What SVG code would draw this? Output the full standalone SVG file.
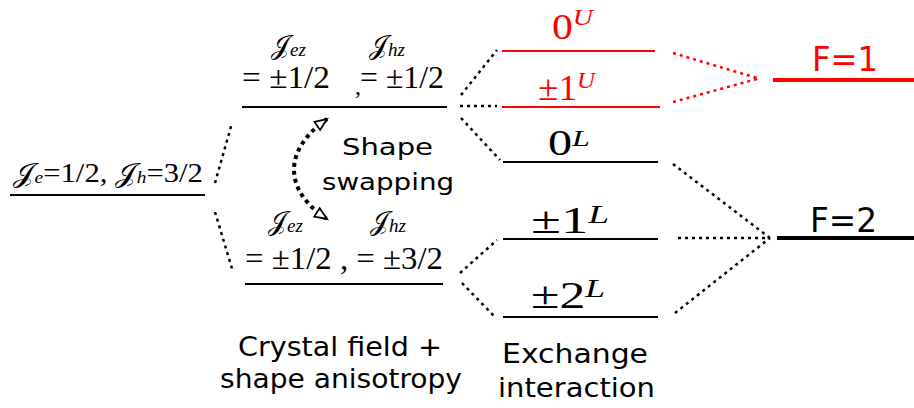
<svg xmlns="http://www.w3.org/2000/svg" width="914" height="408" viewBox="0 0 914 408">
<style>
.lvl{stroke:#000;stroke-width:2}
.red{stroke:#f00}
.thick{stroke-width:4}
.dot{stroke:#000;stroke-width:2.5;stroke-dasharray:3 4;fill:none}
.dotr{stroke:#f00}
.m{font-family:"Liberation Serif","DejaVu Serif",serif;fill:#000}
.s{font-family:"DejaVu Sans",sans-serif;fill:#000}
.rt{fill:#f00}
</style>
<defs>
<marker id="tri" markerUnits="userSpaceOnUse" markerWidth="16" markerHeight="14" refX="13" refY="6" orient="auto-start-reverse" viewBox="0 0 16 12">
<path d="M1,1 L13,6 L1,11 Z" fill="#fff" stroke="#000" stroke-width="1.8" stroke-dasharray="none"/>
</marker>
</defs>

<g id="connectors">
<line class="dot" x1="215" y1="183" x2="232" y2="123"/>
<line class="dot" x1="215" y1="212" x2="233" y2="272"/>
<line class="dot" x1="461" y1="95" x2="497" y2="50"/>
<line class="dot" x1="460" y1="106" x2="497" y2="106"/>
<line class="dot" x1="461" y1="118" x2="500" y2="160"/>
<line class="dot" x1="460" y1="273" x2="497" y2="240"/>
<line class="dot" x1="462" y1="283" x2="495" y2="317"/>
<line class="dot dotr" x1="673" y1="53" x2="757" y2="78"/>
<line class="dot dotr" x1="673" y1="102" x2="757" y2="79"/>
<line class="dot" x1="673" y1="164" x2="770" y2="238"/>
<line class="dot" x1="678" y1="238" x2="770" y2="238"/>
<line class="dot" x1="675" y1="313" x2="770" y2="238"/>
<path class="dot" style="stroke-width:4;stroke-dasharray:4 4" d="M327,119 C283,150 283,190 327,219" marker-start="url(#tri)" marker-end="url(#tri)"/>
</g>

<g id="level-j">
<line class="lvl" x1="10" y1="195" x2="205" y2="195"/>
<text class="m" x="13" y="182" font-size="27" textLength="190" lengthAdjust="spacingAndGlyphs">𝒥<tspan font-size="17" dy="1" font-style="italic">e</tspan><tspan dy="-1">=1/2, 𝒥</tspan><tspan font-size="17" dy="1" font-style="italic">h</tspan><tspan dy="-1">=3/2</tspan></text>
</g>

<g id="level-upper">
<line class="lvl" x1="242" y1="107" x2="447" y2="107"/>
<text class="m" x="271" y="54" font-size="27">𝒥<tspan font-size="19" dy="2" font-style="italic">ez</tspan></text>
<text class="m" x="369" y="54" font-size="27">𝒥<tspan font-size="19" dy="2" font-style="italic">hz</tspan></text>
<text class="m" x="242" y="88" font-size="31" textLength="88" lengthAdjust="spacingAndGlyphs">= ±1/2</text>
<text class="m" x="355" y="94" font-size="24">,</text>
<text class="m" x="360" y="88" font-size="31" textLength="84" lengthAdjust="spacingAndGlyphs">= ±1/2</text>
</g>

<g id="level-lower">
<line class="lvl" x1="245" y1="284" x2="443" y2="284"/>
<text class="m" x="268" y="230" font-size="27">𝒥<tspan font-size="19" dy="2" font-style="italic">ez</tspan></text>
<text class="m" x="370" y="230" font-size="27">𝒥<tspan font-size="19" dy="2" font-style="italic">hz</tspan></text>
<text class="m" x="245" y="269" font-size="31" textLength="198" lengthAdjust="spacingAndGlyphs">= ±1/2 , = ±3/2</text>
</g>

<g id="shape-swapping">
<text class="s" x="342" y="155" font-size="23" textLength="91" lengthAdjust="spacingAndGlyphs">Shape</text>
<text class="s" x="322" y="190" font-size="23" textLength="132" lengthAdjust="spacingAndGlyphs">swapping</text>
</g>

<g id="level-0U">
<line class="lvl red" x1="502" y1="51" x2="655" y2="51"/>
<text class="m rt" x="552" y="39" font-size="36" textLength="41" lengthAdjust="spacingAndGlyphs">0<tspan font-size="24" dy="-14" font-style="italic">U</tspan></text>
</g>
<g id="level-1U">
<line class="lvl red" x1="502" y1="107" x2="660" y2="107"/>
<text class="m rt" x="538" y="100" font-size="36" textLength="57" lengthAdjust="spacingAndGlyphs">±1<tspan font-size="24" dy="-12" font-style="italic">U</tspan></text>
</g>
<g id="level-0L">
<line class="lvl" x1="503" y1="162" x2="658" y2="162"/>
<text class="m" x="548" y="155" font-size="36" textLength="42" lengthAdjust="spacingAndGlyphs">0<tspan font-size="24" dy="-9" font-style="italic">L</tspan></text>
</g>
<g id="level-1L">
<line class="lvl" x1="503" y1="239" x2="658" y2="239"/>
<text class="m" x="531" y="233" font-size="38" textLength="78" lengthAdjust="spacingAndGlyphs">±1<tspan font-size="26" dy="-10" font-style="italic">L</tspan></text>
</g>
<g id="level-2L">
<line class="lvl" x1="503" y1="317" x2="658" y2="317"/>
<text class="m" x="531" y="308" font-size="38" textLength="74" lengthAdjust="spacingAndGlyphs">±2<tspan font-size="26" dy="-11" font-style="italic">L</tspan></text>
</g>

<g id="level-F1">
<line class="lvl red thick" x1="773" y1="80" x2="914" y2="80"/>
<text class="s rt" x="812" y="71" font-size="34" textLength="66" lengthAdjust="spacingAndGlyphs">F=1</text>
</g>
<g id="level-F2">
<line class="lvl thick" x1="777" y1="238" x2="914" y2="238"/>
<text class="s" x="810" y="232" font-size="34" textLength="67" lengthAdjust="spacingAndGlyphs">F=2</text>
</g>

<g id="labels">
<text class="s" x="238" y="356" font-size="26" textLength="204" lengthAdjust="spacingAndGlyphs">Crystal field +</text>
<text class="s" x="220" y="388" font-size="26" textLength="242" lengthAdjust="spacingAndGlyphs">shape anisotropy</text>
<text class="s" x="502" y="363" font-size="26" textLength="146" lengthAdjust="spacingAndGlyphs">Exchange</text>
<text class="s" x="498" y="397" font-size="26" textLength="157" lengthAdjust="spacingAndGlyphs">interaction</text>
</g>
</svg>
